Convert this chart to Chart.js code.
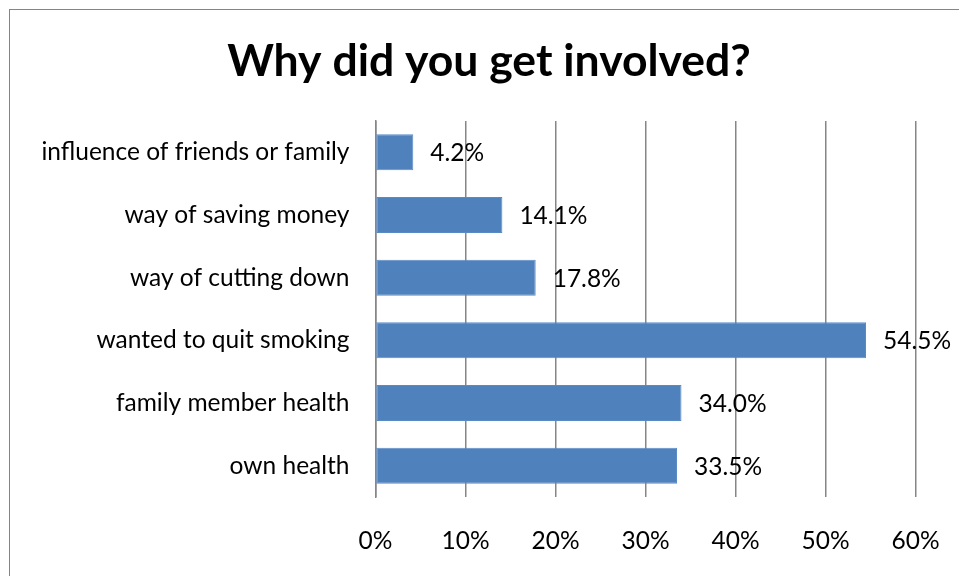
<!DOCTYPE html>
<html>
<head>
<meta charset="utf-8">
<title>Why did you get involved?</title>
<script src="https://cdn.jsdelivr.net/npm/chart.js@4/dist/chart.umd.min.js"></script>
<style>
  html, body { margin: 0; padding: 0; background: #fff; overflow: hidden; }
  #wrap { position: relative; width: 959px; height: 576px; }
  #frame { position: absolute; left: 9px; top: 9px; width: 1200px; height: 900px; border: 1px solid #858585; }
  #chart { position: absolute; left: 0; top: 0; }
</style>
</head>
<body>
<div id="wrap">
  <div id="frame"></div>
  <canvas id="chart" width="959" height="576"></canvas>
</div>
<script>
var categories = ['influence of friends or family', 'way of saving money', 'way of cutting down', 'wanted to quit smoking', 'family member health', 'own health'];
var values = [4.2, 14.1, 17.8, 54.5, 34.0, 33.5];
var tickLabels = ['0%', '10%', '20%', '30%', '40%', '50%', '60%'];

var fontFamily = 'Lato, "Liberation Sans", sans-serif';
var labelSize = 24.5;
var barColor = '#4F81BD';
var gridColor = '#868686';

// percentage text just past the end of each bar
var valueLabels = {
    id: 'valueLabels',
    afterDatasetsDraw: function(chart) {
        var ctx = chart.ctx;
        var meta = chart.getDatasetMeta(0);
        ctx.save();
        ctx.font = labelSize + 'px ' + fontFamily;
        ctx.fillStyle = '#000';
        ctx.textAlign = 'left';
        ctx.textBaseline = 'middle';
        meta.data.forEach(function(bar, i) {
            ctx.fillText(values[i].toFixed(1) + '%', bar.x + 17, bar.y + 1);
        });
        ctx.restore();
    }
};

var ctx = document.getElementById('chart').getContext('2d');
var chart = new Chart(ctx, {
    type: 'bar',
    data: {
        labels: categories,
        datasets: [{
            data: values,
            backgroundColor: barColor,
            borderColor: '#5A8AC6',
            borderWidth: 1,
            borderSkipped: false,
            barPercentage: 0.575,
            categoryPercentage: 1.0
        }]
    },
    options: {
        indexAxis: 'y',
        responsive: false,
        animation: false,
        layout: { padding: { left: 19, right: 0, top: 0, bottom: 0 } },
        plugins: {
            legend: { display: false },
            tooltip: { enabled: false },
            title: {
                display: true,
                text: 'Why did you get involved?',
                color: '#000',
                font: { family: fontFamily, size: 44.5, weight: 'bold', lineHeight: 1.2 },
                padding: { top: 35.3, bottom: 32.3 }
            }
        },
        scales: {
            x: {
                min: 0,
                max: 60,
                ticks: {
                    stepSize: 10,
                    color: '#000',
                    padding: 29.5,
                    font: { family: fontFamily, size: labelSize, lineHeight: 1.2 },
                    callback: function(v, i) { return tickLabels[i]; }
                },
                grid: { color: gridColor, lineWidth: 1.5, drawTicks: false },
                border: { display: false },
                // keep the plot short of the right edge, the title stays centred on the full width
                afterFit: function(s) { s.height = 79; s.paddingRight = 43.5; }
            },
            y: {
                ticks: {
                    color: '#000',
                    padding: 26,
                    font: { family: fontFamily, size: labelSize, lineHeight: 1.2 }
                },
                grid: { display: false, drawTicks: false },
                border: { display: true, color: gridColor, width: 1.5 },
                afterFit: function(s) { s.width = 356.5; }
            }
        }
    },
    plugins: [valueLabels]
});
</script>
</body>
</html>
